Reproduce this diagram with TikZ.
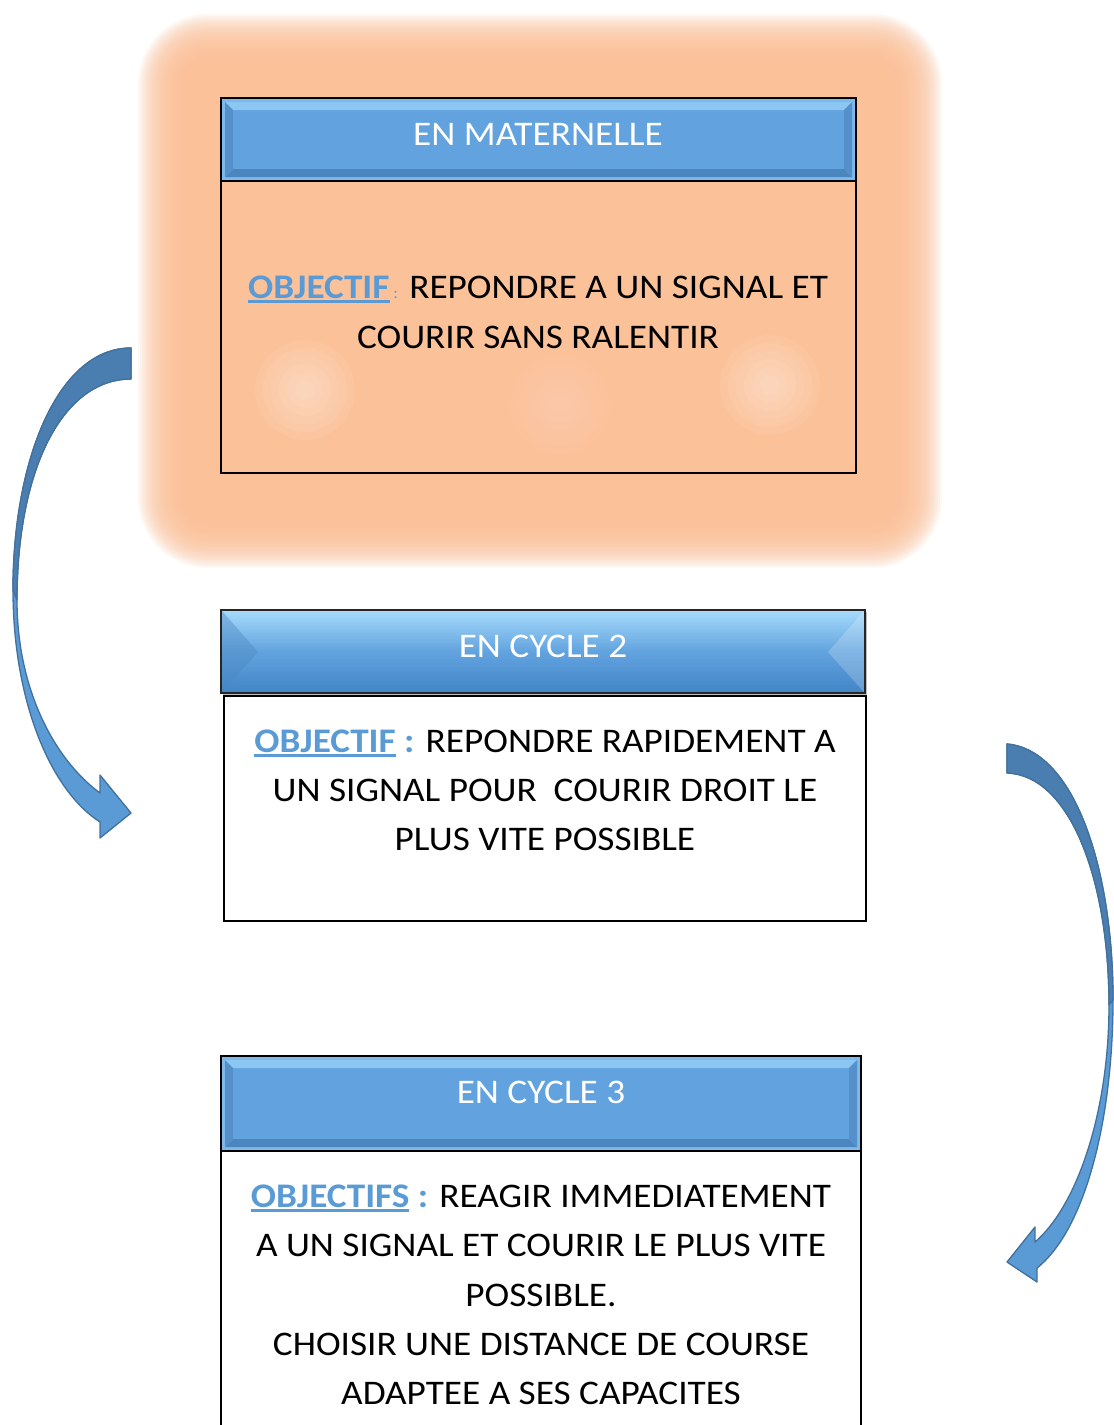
\documentclass[tikz,border=0pt]{standalone}
\usepackage{fontspec}
\setmainfont{Carlito}[FakeStretch=1.08]
\usetikzlibrary{shapes.geometric}
\definecolor{orangeC}{RGB}{251,193,152}
\definecolor{hdrC}{RGB}{98,163,223}
\definecolor{hdrLight}{RGB}{140,198,242}
\definecolor{hdrRing}{RGB}{125,185,234}
\definecolor{hdrDark}{RGB}{75,134,191}
\definecolor{hdrSide}{RGB}{85,144,202}
\definecolor{objC}{RGB}{91,155,213}
\definecolor{arrLight}{RGB}{91,155,213}
\definecolor{arrDark}{RGB}{74,126,176}
\definecolor{arrLine}{RGB}{65,113,156}
\newcommand\objul[1]{\setbox0\hbox{#1}\rlap{\rule[-5pt]{\wd0}{2.6pt}}\box0\relax}
\newcommand\bevhdr[5]{%
  \fill[hdrRing] (#1,#2) rectangle (#3,#4);
  \fill[hdrC] ({#1+3},{#2+3}) rectangle ({#3-3},{#4-3});
  \fill[hdrLight] ({#1+3},{#2+3}) -- ({#3-3},{#2+3}) -- ({#3-3-#5},{#2+3+#5}) -- ({#1+3+#5},{#2+3+#5}) -- cycle;
  \fill[hdrDark] ({#1+3},{#4-3}) -- ({#3-3},{#4-3}) -- ({#3-3-#5},{#4-3-#5}) -- ({#1+3+#5},{#4-3-#5}) -- cycle;
  \fill[hdrSide] ({#1+3},{#2+3}) -- ({#1+3+#5},{#2+3+#5}) -- ({#1+3+#5},{#4-3-#5}) -- ({#1+3},{#4-3}) -- cycle;
  \fill[hdrSide] ({#3-3},{#2+3}) -- ({#3-3-#5},{#2+3+#5}) -- ({#3-3-#5},{#4-3-#5}) -- ({#3-3},{#4-3}) -- cycle;
}
\tikzset{
  txt/.style={anchor=base, inner sep=0pt, font=\fontsize{34.5}{50}\selectfont},
  hdrtxt/.style={anchor=base, inner sep=0pt, text=white, font=\fontsize{34.5}{50}\selectfont},
  boxline/.style={draw=black, line width=2pt},
  arrow shape/.style={fill=arrLight, draw=arrLine, line width=1.3pt, line join=round},
  arrow back/.style={fill=arrDark, draw=arrLine, line width=1.3pt, line join=round}
}
\begin{document}
\begin{tikzpicture}[x=1pt,y=-1pt]
\useasboundingbox (0,0) rectangle (1114,1425);
\fill[white] (0,0) rectangle (1114,1425);
% orange glow
\foreach \i in {0,...,27}{
  \fill[orangeC, opacity=0.11, rounded corners={70-2*\i}] ({138+2*\i},{14+2*\i}) rectangle ({942-2*\i},{568-2*\i});
}
% box 1
\fill[orangeC] (221,180) rectangle (856,473);
\foreach \c/\o in {(305,390)/0.07,(770,385)/0.07,(560,405)/0.03}{
  \foreach \r in {50,42,34,26,18,10}{
    \fill[white, opacity=\o] \c circle (\r);
  }
}
\draw[boxline] (221,180) rectangle (856,473);
\bevhdr{222}{99}{855}{180}{8}
\draw[boxline] (221,98) rectangle (856,181);
\node[hdrtxt] (h1) at (538,145) {EN MATERNELLE};
\node[txt] (b1a) at (538,298) {\textcolor{objC}{\textbf{\objul{OBJECTIF}}\fontsize{16}{20}\selectfont\ :} REPONDRE A UN SIGNAL ET};
\node[txt] (b1b) at (538,348) {COURIR SANS RALENTIR};

% box 2
\fill[black!25] (223,612) rectangle (867,697);
\shade[top color={rgb,255:red,166;green,219;blue,251}, bottom color={rgb,255:red,66;green,133;blue,198}, middle color={rgb,255:red,98;green,163;blue,223}] (221,610) rectangle (865,693);
\fill[hdrDark, opacity=0.4] (222,611) -- (258,652) -- (222,692) -- cycle;
\fill[white, opacity=0.2] (864,611) -- (828,652) -- (864,692) -- cycle;
\draw[black!85, line width=1.6pt] (221,610) rectangle (865,693);
\draw[boxline] (224,696) rectangle (866,921);
\node[hdrtxt] (h2) at (543,657) {EN CYCLE 2};
\node[txt] (b2a) at (545,752) {\textcolor{objC}{\textbf{\objul{OBJECTIF} :}} REPONDRE RAPIDEMENT A};
\node[txt] (b2b) at (545,801) {UN SIGNAL POUR\ \ COURIR DROIT LE};
\node[txt] (b2c) at (545,850) {PLUS VITE POSSIBLE};

% box 3
\bevhdr{222}{1057}{860}{1150}{8}
\draw[boxline] (221,1056) rectangle (861,1151);
\draw[boxline] (221,1151) rectangle (861,1440);
\node[hdrtxt] (h3) at (541,1103) {EN CYCLE 3};
\node[txt] (b3a) at (541,1207) {\textcolor{objC}{\textbf{\objul{OBJECTIFS} :}} REAGIR IMMEDIATEMENT};
\node[txt] (b3b) at (541,1256) {A UN SIGNAL ET COURIR LE PLUS VITE};
\node[txt] (b3c) at (541,1306) {POSSIBLE.};
\node[txt] (b3d) at (541,1355) {CHOISIR UNE DISTANCE DE COURSE};
\node[txt] (b3e) at (541,1404) {ADAPTEE A SES CAPACITES};

% left curved arrow
\draw[arrow shape] (131,348) .. controls (58,348) and (13,460) .. (13,590)
  .. controls (13,700) and (50,790) .. (100,822) -- (100,838) -- (131,813) -- (100,775) -- (100,793)
  .. controls (55,760) and (17,690) .. (17,600)
  .. controls (17,470) and (62,379) .. (131,379) -- cycle;
\draw[arrow back] (131,348) .. controls (58,348) and (13,460) .. (13,590) -- (17,600)
  .. controls (17,470) and (62,379) .. (131,379) -- cycle;

% right curved arrow
\draw[arrow shape] (1007,744) .. controls (1075,750) and (1113,870) .. (1113,1000)
  .. controls (1113,1120) and (1085,1230) .. (1037,1268) -- (1037,1282) -- (1007,1262) -- (1035,1227) -- (1035,1242)
  .. controls (1078,1205) and (1109,1110) .. (1109,1005)
  .. controls (1109,880) and (1070,775) .. (1007,773) -- cycle;
\draw[arrow back] (1007,744) .. controls (1075,750) and (1113,870) .. (1113,1000) -- (1109,1005)
  .. controls (1109,880) and (1070,775) .. (1007,773) -- cycle;
\end{tikzpicture}
\end{document}
